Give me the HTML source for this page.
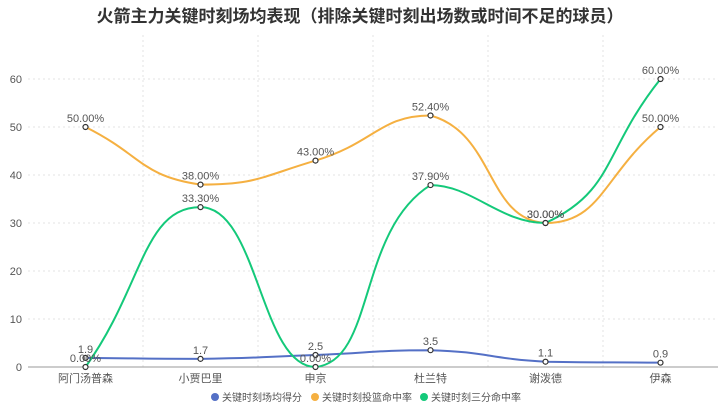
<!DOCTYPE html>
<html><head><meta charset="utf-8"><style>
body{margin:0;background:#fff;}
svg{display:block;font-family:"Liberation Sans","Noto Sans CJK SC",sans-serif;}
</style></head><body>
<svg id="c" width="720" height="410">
<text x="360" y="22" text-anchor="middle" font-size="17" font-weight="bold" fill="#333">火箭主力关键时刻场均表现（排除关键时刻出场数或时间不足的球员）</text>
</svg>
<script>
const categories=["阿门汤普森","小贾巴里","申京","杜兰特","谢泼德","伊森"];
const scoreVals=[1.9,1.7,2.5,3.5,1.1,0.9];
const fgVals=[50,38,43,52.4,30,50];
const threeVals=[0,33.3,0,37.9,30,60];
const yTicks=[0,10,20,30,40,50,60];
const seriesNames=["关键时刻场均得分","关键时刻投篮命中率","关键时刻三分命中率"];
const colors=["#5470c6","#f5b041","#14c97a"];
const NS="http://www.w3.org/2000/svg";
const svg=document.getElementById('c');
const L=28,R=718,B=367,T=31,yMax=70;
const cw=(R-L)/categories.length;
const xS=i=>L+cw*(i+0.5);
const yS=v=>B-(v/yMax)*(B-T);
function mk(t,a,p){const e=document.createElementNS(NS,t);for(const k in a)e.setAttribute(k,a[k]);(p||svg).appendChild(e);return e;}
yTicks.forEach(v=>{
  if(v>0){const g=mk('line',{x1:L,x2:R,y1:yS(v),y2:yS(v),stroke:'#e3e3e3','stroke-dasharray':'2,3'});
  
  }
  const t=mk('text',{x:L-6,y:yS(v)+4,'text-anchor':'end','font-size':11,fill:'#555'});t.textContent=v;
  
  
});
for(let i=1;i<categories.length;i++){
  const g=mk('line',{x1:L+cw*i,x2:L+cw*i,y1:35,y2:B,stroke:'#e3e3e3','stroke-dasharray':'2,3'});
  
  
}
const ax=mk('line',{x1:L,x2:R,y1:B,y2:B,stroke:'#999'});


categories.forEach((c,i)=>{
  const t=mk('text',{x:xS(i),y:B+15,'text-anchor':'middle','font-size':11,fill:'#555'});t.textContent=c;
  
  
});
function path(vals){
  const p=vals.map((v,i)=>[xS(i),yS(v)]);const s=0.5;
  let d=`M${p[0][0]},${p[0][1]}`;
  const cps=p.map((pt,i)=>{
    const pr=p[Math.max(i-1,0)],nx=p[Math.min(i+1,p.length-1)];
    const vx=nx[0]-pr[0],vy=nx[1]-pr[1];
    const l0=Math.hypot(pt[0]-pr[0],pt[1]-pr[1]),l1=Math.hypot(nx[0]-pt[0],nx[1]-pt[1]);
    const r=l0+l1?l1/(l0+l1):0.5;
    let c0=[pt[0]-vx*s*(1-r),pt[1]-vy*s*(1-r)],c1=[pt[0]+vx*s*r,pt[1]+vy*s*r];
    c0[1]=Math.min(Math.max(c0[1],Math.min(pt[1],pr[1])),Math.max(pt[1],pr[1]));
    c1[1]=Math.min(Math.max(c1[1],Math.min(pt[1],nx[1])),Math.max(pt[1],nx[1]));
    return [c0,c1];
  });
  for(let i=1;i<p.length;i++){d+=` C${cps[i-1][1][0]},${cps[i-1][1][1]} ${cps[i][0][0]},${cps[i][0][1]} ${p[i][0]},${p[i][1]}`;}
  return d;
}
const series=[scoreVals,fgVals,threeVals];
series.forEach((vals,si)=>{
  const l=mk('path',{d:path(vals),fill:'none',stroke:colors[si],'stroke-width':2});
  
  
});
series.forEach((vals,si)=>{
  vals.forEach((v,i)=>{
    const c=mk('circle',{cx:xS(i),cy:yS(v),r:2.5,fill:'#fff',stroke:'#333','stroke-width':1.2});
    
    
    const t=mk('text',{x:xS(i),y:yS(v)-5,'text-anchor':'middle','font-size':11,fill:'#555'});
    t.textContent=si==0?v:v.toFixed(2)+'%';
    
    
  });
});
seriesNames.forEach((n,i)=>{
  const x=[215,315,424][i];
  const c=mk('circle',{cx:x,cy:397,r:4,fill:colors[i]});
  
  
  const t=mk('text',{x:x+7,y:401,'font-size':10,fill:'#555'});t.textContent=n;
  
  
});
</script>
</body></html>
